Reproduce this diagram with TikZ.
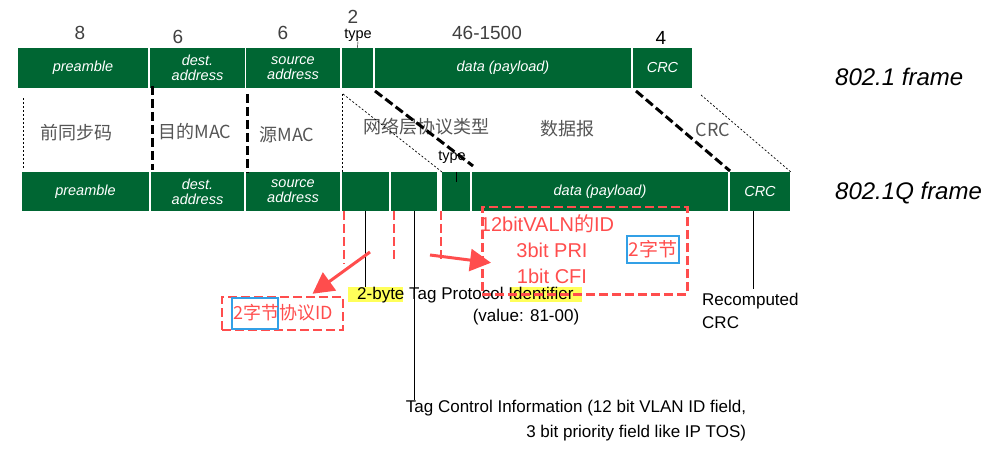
\documentclass[tikz,border=0pt]{standalone}
\usepackage{fontspec}
\setmainfont{Liberation Sans}
\newfontfamily\cjk{Noto Sans CJK SC}
\usetikzlibrary{arrows.meta,calc}
\definecolor{framegreen}{RGB}{0,102,51}
\definecolor{tagred}{RGB}{255,77,77}
\definecolor{tagblue}{RGB}{51,160,230}
\definecolor{hlyellow}{RGB}{255,255,90}
\definecolor{numgray}{RGB}{64,64,64}
\definecolor{cngray}{RGB}{85,85,85}
\tikzset{
	field/.style={fill=framegreen, text=white, anchor=north west, inner sep=0pt, outer sep=0pt, align=center, font=\fontsize{14.5}{15}\selectfont\itshape},
	bytes/.style={text=numgray, inner sep=0pt, font=\fontsize{19}{19}\selectfont},
	cnlabel/.style={text=cngray, inner sep=0pt, font=\cjk\fontsize{18}{18}\selectfont},
	thickdash/.style={line width=3pt, dash pattern=on 9pt off 4pt},
	thindash/.style={line width=0.7pt, dash pattern=on 2pt off 2pt},
	reddash/.style={draw=tagred, line width=2.5pt, dash pattern=on 9pt off 4pt, inner sep=0pt},
	redtext/.style={text=tagred, inner sep=0pt, font=\fontsize{20}{20}\selectfont},
	bluebox/.style={draw=tagblue, line width=2.5pt, inner sep=0pt},
	note/.style={inner sep=0pt, font=\fontsize{17}{23}\selectfont},
	redarrow/.style={draw=tagred, line width=3pt, -{Triangle[length=21pt,width=22pt]}}
}
\begin{document}
\begin{tikzpicture}[x=1pt,y=-1pt]
		\useasboundingbox (0,0) rectangle (1008,462);

		\node (preA)[field, minimum width=130pt, minimum height=40pt] at (18,48) {preamble};
		\node (destA)[field, minimum width=95pt, minimum height=40pt] at (150,48) {dest.\\address};
		\node (srcA)[field, minimum width=94pt, minimum height=40pt] at (246,48) {source\\address};
		\node (typA)[field, minimum width=31pt, minimum height=40pt] at (342,48) {};
		\node (dataA)[field, minimum width=256pt, minimum height=40pt] at (375,48) {data (payload)};
		\node (crcA)[field, minimum width=59pt, minimum height=40pt] at (633,48) {CRC};

		\node (preB)[field, minimum width=127pt, minimum height=39pt] at (22,172) {preamble};
		\node (destB)[field, minimum width=93pt, minimum height=39pt] at (151,172) {dest.\\address};
		\node (srcB)[field, minimum width=94pt, minimum height=39pt] at (246,172) {source\\address};
		\node (tpidB)[field, minimum width=47pt, minimum height=39pt] at (342,172) {};
		\node (tciB)[field, minimum width=46pt, minimum height=39pt] at (391,172) {};
		\node (typB)[field, minimum width=28pt, minimum height=39pt] at (442,172) {};
		\node (dataB)[field, minimum width=256pt, minimum height=39pt] at (472,172) {data (payload)};
		\node (crcB)[field, minimum width=60pt, minimum height=39pt] at (730,172) {CRC};

		\node (nPre)[bytes] at (80,33) {8};
		\node (nDest)[bytes] at (178,37) {6};
		\node (nSrc)[bytes] at (283,33) {6};
		\node (nTyp)[bytes] at (353,17) {2};
		\node (nData)[bytes] at (487,33) {46-1500};
		\node (nCrc)[bytes, text=black] at (661,38) {4};
		\node (typelblA)[inner sep=0pt, font=\fontsize{14.5}{15}\selectfont] at (358,35) {type};
		\draw (typelblA.south) -- (typA.north);
		\node (typelblB)[inner sep=0pt, font=\fontsize{14.5}{15}\selectfont] at (452,157) {type};
		\draw (typB.north) -- ++(0,10);

		\node (cnPre)[cnlabel] at (76,133) {前同步码};
		\node (cnDest)[cnlabel] at (195,132) {目的MAC};
		\node (cnSrc)[cnlabel] at (287,135) {源MAC};
		\node (cnTyp)[cnlabel] at (426,127) {网络层协议类型};
		\node (cnData)[cnlabel] at (567,129) {数据报};
		\node (cnCrc)[cnlabel] at (713,130) {CRC};

		\draw[thindash] ($(preB.north west)+(1,-4)$) -- ++(0,-71);
		\draw[thickdash] ($(destA.south west)+(2,-2)$) -- ($(destB.north west)+(1,-2)$);
		\draw[thickdash] ($(srcA.south west)+(1,6)$) -- ($(srcB.north west)+(1,1)$);
		\draw[thindash] ($(typA.south west)+(0,6)$) -- (tpidB.north west);
		\draw[thindash] ($(typA.south west)+(1,6)$) -- (typB.north west);
		\draw[thickdash] ($(dataA.south west)+(0,3)$) -- ($(dataB.north west)+(1,-6)$);
		\draw[thickdash] ($(crcA.south west)+(3,3)$) -- ($(crcB.north west)+(0,-1)$);
		\draw[thindash] ($(crcA.south east)+(9,7)$) -- ($(crcB.north east)+(2,1)$);

		\node (frameA)[anchor=west, inner sep=0pt, font=\fontsize{24}{24}\selectfont\itshape] at (835,77) {802.1 frame};
		\node (frameB)[anchor=west, inner sep=0pt, font=\fontsize{24}{24}\selectfont\itshape] at (835,193) {802.1Q frame};

		\fill[hlyellow] (348,287) rectangle (403,302);
		\fill[hlyellow] (510,287) rectangle (582,302);
		\node (tpid)[note, anchor=west] at (357,295) {2-byte Tag Protocol Identifier};
		\node (tpidval)[note] at (526,317) {(value: 81-00)};
		\node (tci)[note, align=right, font=\fontsize{17}{25}\selectfont] at (576,421) {Tag Control Information (12 bit VLAN ID field,\\3 bit priority field like IP TOS)};
		\node (recrc)[note, align=left, anchor=north west] at (702,293) {Recomputed\\CRC};
		\draw (tpidB.south) -- (tpidB.south |- tpid.north);
		\draw (tciB.south) -- (tciB.south |- tci.north);
		\draw ($(crcB.south)+(-7,0)$) -- ++(0,78);

		\draw[reddash] ($(tpidB.south west)+(2,0)$) -- ++(0,53);
		\draw[reddash] ($(tciB.south west)+(3,0)$) -- ++(0,51);
		\draw[reddash] ($(typB.south west)+(-1,0)$) -- ++(0,51);

		\node (vlanbox)[reddash, anchor=north west, minimum width=205pt, minimum height=87pt] at (481,206) {};
		\node (vid)[redtext] at (547,224) {12bitVALN{\cjk 的}ID};
		\node (pri)[redtext] at (552,250) {3bit PRI};
		\node (cfi)[redtext] at (552,276) {1bit CFI};
		\node (vbytes)[bluebox, minimum width=52pt, minimum height=27pt, text=tagred, font=\cjk\fontsize{19}{19}\selectfont] at (653,249.5) {2字节};

		\node (pidbox)[reddash, minimum width=121pt, minimum height=33pt] at (282.5,313.5) {};
		\node (pidbytes)[bluebox, minimum width=46pt, minimum height=31pt] at (255,313.5) {};
		\node (pidtxt)[anchor=west, inner sep=0pt, text=tagred, font=\cjk\fontsize{18}{18}\selectfont] at (233,313) {2字节协议ID};

		\coordinate (arrL) at (370,252);
		\coordinate (arrR) at (430,255);
		\draw[redarrow] (arrL) -- ($(pidbox.north)+(30,-2)$);
		\draw[redarrow] (arrR) -- ($(vlanbox.west)+(10,12)$);
	\end{tikzpicture}
\end{document}
